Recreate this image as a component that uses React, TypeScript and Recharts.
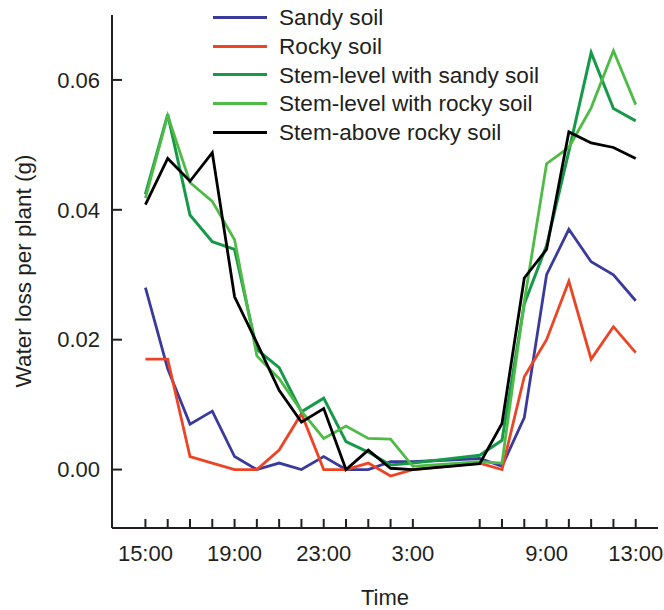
import { LineChart, Line, XAxis, YAxis, Legend, Label } from 'recharts';

const times = [
  '15:00', '16:00', '17:00', '18:00', '19:00', '20:00', '21:00', '22:00', '23:00',
  '0:00', '1:00', '2:00', '3:00', '6:00', '7:00', '8:00', '9:00', '10:00', '11:00', '12:00', '13:00',
];
const labeledTimes = ['15:00', '19:00', '23:00', '3:00', '9:00', '13:00'];
const yTicks = [0, 0.02, 0.04, 0.06];
const seriesNames = ['Sandy soil', 'Rocky soil', 'Stem-level with sandy soil', 'Stem-level with rocky soil', 'Stem-above rocky soil'];

const sandy = [0.028, 0.0155, 0.007, 0.009, 0.002, 0, 0.001, 0, 0.002, 0, 0, 0.0012, 0.0012, 0.0017, 0.0005, 0.008, 0.03, 0.037, 0.032, 0.03, 0.026];
const rocky = [0.017, 0.017, 0.002, 0.001, 0, 0, 0.003, 0.0086, 0, 0, 0.001, -0.001, 0, 0.001, 0, 0.0143, 0.02, 0.029, 0.017, 0.022, 0.018];
const stemSandy = [0.0424, 0.0547, 0.0392, 0.0351, 0.0339, 0.0185, 0.0157, 0.0089, 0.011, 0.0043, 0.0027, 0.0007, 0.001, 0.0022, 0.0045, 0.0255, 0.0345, 0.049, 0.0642, 0.0556, 0.0537];
const stemRocky = [0.0418, 0.0545, 0.0442, 0.0413, 0.0354, 0.0175, 0.014, 0.009, 0.0048, 0.0067, 0.0048, 0.0047, 0.0005, 0.0012, 0.001, 0.0259, 0.0471, 0.0496, 0.0557, 0.0645, 0.0562];
const stemAbove = [0.0408, 0.0479, 0.0444, 0.0488, 0.0266, 0.0195, 0.0122, 0.0073, 0.0094, 0, 0.003, 0.0002, 0, 0.0009, 0.0071, 0.0295, 0.0339, 0.052, 0.0503, 0.0496, 0.0479];

// hours since 15:00
const toHour = (t: string) => (parseInt(t, 10) - 15 + 24) % 24;

const data = times.map((t, i) => ({
  h: toHour(t),
  sandy: sandy[i],
  rocky: rocky[i],
  stemSandy: stemSandy[i],
  stemRocky: stemRocky[i],
  stemAbove: stemAbove[i],
}));

const hourTicks = times.map(toHour);
const labelByHour: Record<number, string> = {};
labeledTimes.forEach((t) => (labelByHour[toHour(t)] = t));

const FONT = '"Liberation Sans", Arial, sans-serif';
const INK = '#231f20';

function XTick({ x, y, payload }: any) {
  const label = labelByHour[payload.value];
  return (
    <g>
      <line x1={x} y1={y} x2={x} y2={y - 9} stroke={INK} strokeWidth={2} />
      {label && (
        <text x={x} y={y + 17} dy="0.71em" textAnchor="middle" fontSize={22} fontFamily={FONT} fill={INK}>
          {label}
        </text>
      )}
    </g>
  );
}

function YTick({ x, y, payload }: any) {
  return (
    <g>
      <line x1={x} y1={y} x2={x + 10} y2={y} stroke={INK} strokeWidth={2} />
      <text x={x - 12} y={y} dy="0.35em" textAnchor="end" fontSize={22} fontFamily={FONT} fill={INK}>
        {payload.value.toFixed(2)}
      </text>
    </g>
  );
}

function LegendBox({ payload }: any) {
  const items = [...(payload || [])].sort(
    (a: any, b: any) => seriesNames.indexOf(a.value) - seriesNames.indexOf(b.value)
  );
  return (
    <div style={{ fontFamily: FONT, fontSize: 22.6, color: INK }}>
      {items.map((p: any) => (
        <div key={p.value} style={{ display: 'flex', alignItems: 'center', height: 28.7, whiteSpace: 'nowrap' }}>
          <div style={{ width: 54, height: 3, background: p.color, marginRight: 12, marginTop: -2 }} />
          <span>{p.value}</span>
        </div>
      ))}
    </div>
  );
}

export default function App() {
  return (
    <div style={{ position: 'absolute', left: 0, top: 0, background: '#fff' }}>
      <LineChart width={664} height={610} data={data} margin={{ top: 15, right: 6, bottom: 0, left: 0 }}>
        <XAxis
          dataKey="h"
          type="number"
          domain={[-1.5, 23]}
          ticks={hourTicks}
          interval={0}
          height={82}
          tickSize={0}
          tickMargin={0}
          tickLine={false}
          tick={<XTick />}
          axisLine={{ stroke: INK, strokeWidth: 2 }}
          allowDataOverflow
        >
          <Label
            content={() => (
              <text x={385} y={605} textAnchor="middle" fontSize={22} fontFamily={FONT} fill={INK}>
                Time
              </text>
            )}
          />
        </XAxis>
        <YAxis
          type="number"
          domain={[-0.009, 0.07]}
          ticks={yTicks}
          width={112}
          tickSize={0}
          tickMargin={0}
          tickLine={false}
          tick={<YTick />}
          axisLine={{ stroke: INK, strokeWidth: 2 }}
          allowDataOverflow
        >
          <Label
            content={() => (
              <text
                x={23}
                y={271}
                dy="0.35em"
                textAnchor="middle"
                fontSize={22.5}
                fontFamily={FONT}
                fill={INK}
                transform="rotate(-90, 23, 271)"
              >
                Water loss per plant (g)
              </text>
            )}
          />
        </YAxis>
        <Legend
          layout="vertical"
          align="center"
          verticalAlign="middle"
          content={<LegendBox />}
          wrapperStyle={{ left: 213, top: 4, width: 380 }}
        />
        <Line dataKey="sandy" name="Sandy soil" stroke="#3a3a9c" strokeWidth={2.8} dot={false} isAnimationActive={false} />
        <Line dataKey="rocky" name="Rocky soil" stroke="#ec4424" strokeWidth={2.8} dot={false} isAnimationActive={false} />
        <Line dataKey="stemSandy" name="Stem-level with sandy soil" stroke="#17994a" strokeWidth={3} dot={false} isAnimationActive={false} />
        <Line dataKey="stemRocky" name="Stem-level with rocky soil" stroke="#4dbb46" strokeWidth={2.8} dot={false} isAnimationActive={false} />
        <Line dataKey="stemAbove" name="Stem-above rocky soil" stroke="#000000" strokeWidth={2.8} dot={false} isAnimationActive={false} />
      </LineChart>
    </div>
  );
}
